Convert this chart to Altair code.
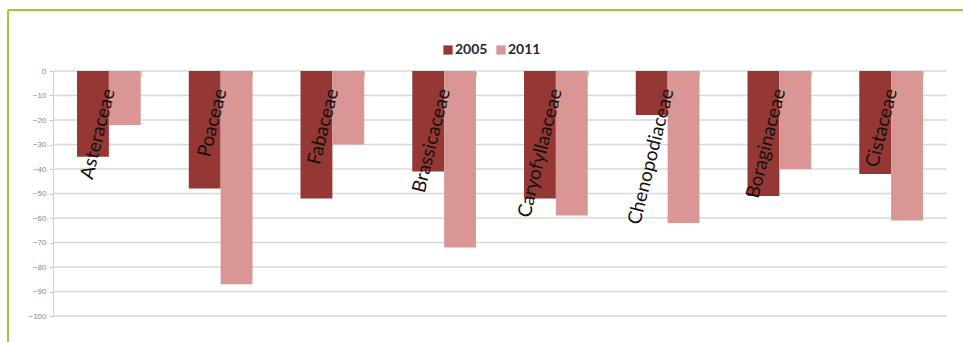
import altair as alt
import pandas as pd

categories = ["Asteraceae", "Poaceae", "Fabaceae", "Brassicaceae",
              "Caryofyllaaceae", "Chenopodiaceae", "Boraginaceae", "Cistaceae"]
years = ["2005", "2011"]
values_2005 = [-35, -48, -52, -41, -52, -18, -51, -42]
values_2011 = [-22, -87, -30, -72, -59, -62, -40, -61]
y_ticks = list(range(-100, 1, 10))

rows = []
for i, c in enumerate(categories):
    rows.append({"family": c, "year": "2005", "value": values_2005[i]})
    rows.append({"family": c, "year": "2011", "value": values_2011[i]})
df = pd.DataFrame(rows)
labels_df = pd.DataFrame({"family": categories})
ticks_df = pd.DataFrame({"tick": y_ticks})

y_scale = alt.Scale(domain=[-100, 0], nice=False)

grid = alt.Chart(ticks_df).mark_rule(color="#d8d8d8", strokeWidth=1.5).encode(
    y=alt.Y("tick:Q", scale=y_scale,
            axis=alt.Axis(values=y_ticks, labelOverlap=False, title=None,
                          labelFontSize=8, labelColor="#888888", labelPadding=3,
                          tickSize=4, tickColor="#c8c8c8", domainColor="#d0d0d0",
                          grid=False)),
)

x_enc = alt.X("family:N", sort=categories,
              scale=alt.Scale(paddingInner=0.43, paddingOuter=0.215),
              axis=alt.Axis(orient="bottom", offset=-245, labels=False, title=None,
                            ticks=True, tickBand="extent", tickSize=5,
                            tickColor="#c8c8c8", domain=False, grid=False))

bars = alt.Chart(df).mark_bar().encode(
    x=x_enc,
    xOffset=alt.XOffset("year:N", sort=years,
                        scale=alt.Scale(paddingInner=0, paddingOuter=0)),
    y=alt.Y("value:Q", scale=y_scale, axis=None),
    color=alt.Color("year:N",
                    scale=alt.Scale(domain=years, range=["#953735", "#d99694"]),
                    legend=alt.Legend(orient="none", legendX=388, legendY=-28,
                                      direction="horizontal", title=None,
                                      symbolType="square", symbolSize=85,
                                      symbolStrokeWidth=0,
                                      labelFontSize=14, labelFont="Lato",
                                      labelFontWeight="bold", labelColor="#2a2a2a",
                                      labelOffset=0, columnPadding=6, padding=0)),
)

labels = alt.Chart(labels_df).mark_text(
    angle=284, align="right", baseline="alphabetic", fontSize=19,
    font="Lato", color="#111111", dx=1.5, dy=5.8
).encode(
    x=alt.X("family:N", sort=categories),
    y=alt.YDatum(-8, scale=y_scale, axis=None),
    text="family:N",
)

frame_df = pd.DataFrame({"k": [0]})
frame_left = alt.Chart(frame_df).mark_rule(color="#9acd32", strokeWidth=2).encode(
    x=alt.value(-45), y=alt.value(-61), y2=alt.value(275))
frame_top = alt.Chart(frame_df).mark_rule(color="#9acd32", strokeWidth=2).encode(
    x=alt.value(-45), x2=alt.value(915), y=alt.value(-61))

chart = alt.layer(grid, bars, labels, frame_left, frame_top).resolve_axis(
    y="independent"
).properties(
    width=894, height=245,
    autosize=alt.AutoSizeParams(type="none"),
    padding={"left": 53, "top": 71, "right": 16, "bottom": 26},
    background="white",
).configure_view(stroke=None)

chart.save("out.html", embed_options={"renderer": "svg", "actions": False})
